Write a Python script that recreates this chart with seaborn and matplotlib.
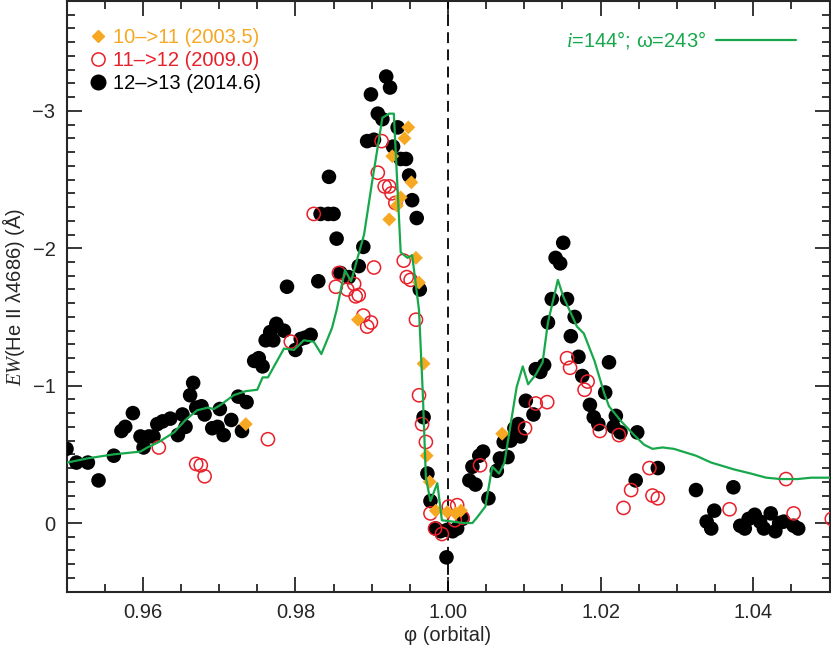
import numpy as np
import pandas as pd
import matplotlib
matplotlib.use("Agg")
import matplotlib.pyplot as plt
from matplotlib.ticker import MultipleLocator, FormatStrFormatter
from matplotlib.lines import Line2D
import seaborn as sns

# ── Données ───────────────────────────────────────────────────────────────
# cycle 12->13 (2014.6), points noirs
phi_c13 = [0.9500, 0.9513, 0.9528, 0.9542, 0.9562, 0.9572, 0.9577, 0.9587, 0.9597, 0.9601,
           0.9608, 0.9614, 0.9619, 0.9626, 0.9636, 0.9646, 0.9652, 0.9656, 0.9662, 0.9666,
           0.9670, 0.9677, 0.9681, 0.9691, 0.9698, 0.9701, 0.9706, 0.9716, 0.9725, 0.9736,
           0.9730, 0.9746, 0.9752, 0.9757, 0.9761, 0.9767, 0.9771, 0.9775, 0.9785, 0.9789,
           0.9800, 0.9807, 0.9813, 0.9820, 0.9830, 0.9833, 0.9843, 0.9850, 0.9844, 0.9854,
           0.9859, 0.9870, 0.9883, 0.9889, 0.9894, 0.9903, 0.9899, 0.9908, 0.9914, 0.9919,
           0.9924, 0.9934, 0.9928, 0.9938, 0.9945, 0.9949, 0.9953, 0.9959, 0.9963, 0.9968,
           0.9973, 0.9977, 0.9984, 0.9990, 0.9999, 1.0006, 1.0012, 1.0019, 0.9998, 1.0028,
           1.0036, 1.0032, 1.0041, 1.0046, 1.0053, 1.0064, 1.0068, 1.0078, 1.0073, 1.0082,
           1.0087, 1.0092, 1.0095, 1.0102, 1.0112, 1.0115, 1.0121, 1.0126, 1.0131, 1.0136,
           1.0141, 1.0147, 1.0151, 1.0156, 1.0161, 1.0166, 1.0171, 1.0176, 1.0186, 1.0191,
           1.0197, 1.0206, 1.0211, 1.0217, 1.0220, 1.0226, 1.0248, 1.0246, 1.0275, 1.0325,
           1.0374, 1.0339, 1.0345, 1.0349, 1.0383, 1.0389, 1.0394, 1.0402, 1.0409, 1.0414,
           1.0423, 1.0429, 1.0434, 1.0440, 1.0453, 1.0459]
ew_c13 = [-0.54, -0.44, -0.44, -0.31, -0.49, -0.67, -0.70, -0.80, -0.63, -0.55,
          -0.63, -0.63, -0.72, -0.74, -0.76, -0.64, -0.79, -0.70, -0.93, -1.02,
          -0.84, -0.85, -0.79, -0.69, -0.70, -0.83, -0.64, -0.75, -0.92, -0.88,
          -0.67, -1.18, -1.20, -1.14, -1.33, -1.39, -1.33, -1.45, -1.40, -1.72,
          -1.26, -1.34, -1.35, -1.37, -1.76, -2.25, -2.25, -2.25, -2.52, -2.07,
          -1.82, -1.79, -1.87, -2.01, -2.78, -2.79, -3.12, -2.98, -2.94, -3.25,
          -3.17, -2.88, -2.74, -2.65, -2.65, -2.53, -2.35, -2.22, -1.70, -0.77,
          -0.36, -0.16, 0.04, 0.06, 0.05, 0.06, 0.04, -0.03, 0.25, -0.31,
          -0.28, -0.41, -0.49, -0.52, -0.18, -0.38, -0.47, -0.48, -0.59, -0.60,
          -0.69, -0.72, -0.63, -0.89, -0.79, -1.12, -1.10, -1.15, -1.46, -1.63,
          -1.93, -1.89, -2.04, -1.63, -1.36, -1.50, -1.21, -1.07, -0.86, -0.77,
          -0.72, -0.95, -1.17, -0.70, -0.78, -0.66, -0.66, -0.31, -0.40, -0.24,
          -0.26, -0.01, 0.04, -0.09, 0.02, 0.04, -0.03, -0.06, -0.01, 0.04,
          -0.07, 0.06, 0.00, -0.01, 0.02, 0.04]

# cycle 11->12 (2009.0), cercles rouges
phi_c12 = [0.9621, 0.9670, 0.9676, 0.9681, 0.9764, 0.9794, 0.9824, 0.9853, 0.9857, 0.9868,
           0.9877, 0.9879, 0.9883, 0.9889, 0.9899, 0.9894, 0.9903, 0.9908, 0.9913, 0.9917,
           0.9923, 0.9926, 0.9931, 0.9942, 0.9946, 0.9951, 0.9958, 0.9962, 0.9966, 0.9971,
           0.9977, 0.9983, 0.9992, 1.0001, 1.0012, 1.0009, 1.0019, 1.0042, 1.0101, 1.0115,
           1.0130, 1.0156, 1.0160, 1.0179, 1.0183, 1.0199, 1.0224, 1.0230, 1.0240, 1.0264,
           1.0268, 1.0275, 1.0369, 1.0443, 1.0453, 1.0503]
ew_c12 = [-0.55, -0.43, -0.42, -0.34, -0.61, -1.32, -2.25, -1.72, -1.82, -1.70,
          -1.74, -1.65, -1.66, -1.51, -1.46, -1.43, -1.86, -2.55, -2.78, -2.45,
          -2.45, -2.40, -2.33, -1.91, -1.79, -1.77, -1.48, -0.93, -0.72, -0.59,
          -0.07, 0.04, 0.08, -0.12, -0.13, -0.02, -0.04, -0.42, -0.69, -0.87,
          -0.88, -1.20, -1.13, -0.97, -1.03, -0.67, -0.64, -0.11, -0.24, -0.40,
          -0.20, -0.18, -0.10, -0.32, -0.07, -0.03]

# cycle 10->11 (2003.5), losanges orange
phi_c11 = [0.9735, 0.9882, 0.9923, 0.9927, 0.9933, 0.9938, 0.9943, 0.9948, 0.9952, 0.9958,
           0.9962, 0.9968, 0.9972, 0.9976, 0.9984, 0.9999, 1.0010, 1.0017, 1.0071]
ew_c11 = [-0.72, -1.48, -2.21, -2.67, -2.31, -2.37, -2.80, -2.88, -2.48, -1.93,
          -1.75, -1.16, -0.49, -0.30, -0.09, -0.08, -0.07, -0.09, -0.65]

# modèle i=144°, omega=243°
phi_mod = [0.9501, 0.9527, 0.9562, 0.9580, 0.9597, 0.9606, 0.9621, 0.9641, 0.9656, 0.9671,
           0.9685, 0.9693, 0.9702, 0.9719, 0.9735, 0.9750, 0.9757, 0.9764, 0.9785, 0.9798,
           0.9811, 0.9824, 0.9834, 0.9848, 0.9854, 0.9865, 0.9873, 0.9890, 0.9901, 0.9914,
           0.9923, 0.9929, 0.9938, 0.9947, 0.9953, 0.9962, 0.9967, 0.9971, 0.9977, 0.9986,
           0.9992, 1.0021, 1.0032, 1.0038, 1.0049, 1.0058, 1.0067, 1.0074, 1.0090, 1.0098,
           1.0105, 1.0115, 1.0124, 1.0131, 1.0144, 1.0151, 1.0169, 1.0178, 1.0192, 1.0205,
           1.0211, 1.0227, 1.0244, 1.0257, 1.0268, 1.0281, 1.0296, 1.0325, 1.0345, 1.0375,
           1.0397, 1.0417, 1.0436, 1.0458, 1.0476, 1.0503]
ew_mod = [-0.44, -0.47, -0.50, -0.51, -0.52, -0.55, -0.59, -0.66, -0.75, -0.82,
          -0.84, -0.83, -0.86, -0.93, -0.96, -0.97, -1.06, -1.06, -1.27, -1.26,
          -1.33, -1.32, -1.23, -1.42, -1.55, -1.84, -1.76, -2.10, -2.50, -2.95,
          -2.98, -2.98, -1.97, -1.93, -1.95, -1.55, -0.94, -0.33, -0.16, -0.29,
          -0.02, 0.00, 0.00, -0.04, -0.12, -0.41, -0.36, -0.44, -0.99, -1.14,
          -1.01, -1.08, -1.17, -1.46, -1.77, -1.65, -1.43, -1.38, -1.18, -0.94,
          -0.85, -0.74, -0.64, -0.57, -0.54, -0.55, -0.54, -0.49, -0.44, -0.39,
          -0.36, -0.33, -0.32, -0.32, -0.33, -0.33]

ORANGE = '#F7A823'
RED = '#E8202A'
GREEN = '#17A84B'
FS = 14.5

# ── Style ────────────────────────────────────────────────────────────────
sns.set_style('ticks')
plt.rcParams['font.family'] = ['Liberation Sans', 'DejaVu Sans']
plt.rcParams['mathtext.fontset'] = 'custom'
plt.rcParams['mathtext.it'] = 'Liberation Serif:italic'
plt.rcParams['mathtext.rm'] = 'Liberation Sans'
plt.rcParams['font.size'] = FS

fig = plt.figure(figsize=(8.31, 6.48), dpi=100)
ax = fig.add_axes([66.5 / 831, 56.3 / 648, 763 / 831, 590.7 / 648])

sns.scatterplot(x=phi_c13, y=ew_c13, ax=ax, color='black', s=110,
                edgecolor='none', marker='o', zorder=3, legend=False)
sns.scatterplot(x=phi_c12, y=ew_c12, ax=ax, s=90, marker='o',
                facecolor='none', edgecolor=RED, linewidth=1.1, zorder=4, legend=False)
sns.scatterplot(x=phi_c11, y=ew_c11, ax=ax, color=ORANGE, s=50, marker='D',
                edgecolor='none', zorder=5, legend=False)
sns.lineplot(x=phi_mod, y=ew_mod, ax=ax, color=GREEN, linewidth=1.6,
             sort=False, estimator=None, zorder=6)

ax.axvline(1.0, color='black', linewidth=1.3, dashes=(6, 3.5), zorder=2)

ax.set_xlim(0.95, 1.05)
ax.set_ylim(0.5, -3.8)

ax.xaxis.set_major_locator(MultipleLocator(0.02))
ax.xaxis.set_minor_locator(MultipleLocator(0.005))
ax.xaxis.set_major_formatter(FormatStrFormatter('%.2f'))
ax.yaxis.set_major_locator(MultipleLocator(1))
ax.yaxis.set_minor_locator(MultipleLocator(0.1))
ax.tick_params(which='both', direction='in', top=True, right=True,
               width=1.3, labelsize=FS, pad=8)
ax.tick_params(which='major', length=11)
ax.tick_params(which='minor', length=5.5)
for sp in ax.spines.values():
    sp.set_linewidth(1.5)

ax.set_xlabel('φ (orbital)', fontsize=FS, labelpad=3)
ax.set_ylabel(r'$EW$(He II λ4686) (Å)', fontsize=FS, labelpad=4)

# légende des cycles
handles = [Line2D([], [], marker='D', color=ORANGE, linestyle='none', markersize=6.5),
           Line2D([], [], marker='o', markerfacecolor='none', markeredgecolor=RED,
                  markeredgewidth=1.1, linestyle='none', markersize=9.5),
           Line2D([], [], marker='o', color='black', linestyle='none', markersize=10.5)]
labels = ['10–>11 (2003.5)', '11–>12 (2009.0)', '12–>13 (2014.6)']
leg = ax.legend(handles, labels, loc='upper left', bbox_to_anchor=(0.0212, 0.964),
                frameon=False, fontsize=FS, handlelength=0.9, handletextpad=0.3,
                labelspacing=0.18, borderaxespad=0, borderpad=0.3)
for txt, col in zip(leg.get_texts(), [ORANGE, RED, 'black']):
    txt.set_color(col)
ax.add_artist(leg)

# légende du modèle
mod_h = [Line2D([], [], color=GREEN, linewidth=1.6)]
leg2 = ax.legend(mod_h, [r'$i$=144°; ω=243°'], loc='upper right',
                 bbox_to_anchor=(0.9643, 0.9624), frameon=False,
                 fontsize=FS, markerfirst=False, handlelength=4.0,
                 handletextpad=0.5, borderaxespad=0, borderpad=0.3)
leg2.get_texts()[0].set_color(GREEN)

plt.savefig('out.png', dpi=100)
